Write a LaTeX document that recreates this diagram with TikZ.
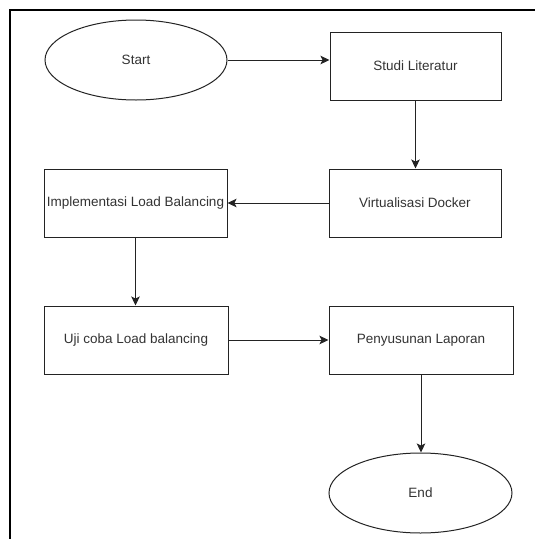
\documentclass[tikz,border=0pt]{standalone}
\usepackage{fontspec}
\setmainfont{Liberation Sans}
\usetikzlibrary{shapes.geometric}
\usetikzlibrary{arrows.meta}
\definecolor{txtgray}{RGB}{51,51,51}
\definecolor{linegray}{RGB}{35,35,35}

\begin{document}
\begin{tikzpicture}[x=1pt,y=-1pt,
  proc/.style={draw=linegray, line width=1pt, rectangle, minimum height=68pt,
    inner sep=0pt, font=\fontsize{13.5}{16}\selectfont, text=txtgray},
  term/.style={draw=linegray, line width=1pt, ellipse, minimum width=182pt,
    minimum height=80pt, inner sep=0pt, font=\fontsize{13.5}{16}\selectfont, text=txtgray},
  flow/.style={draw=linegray, line width=1pt, -{Stealth[length=9pt,width=8.5pt,inset=2pt]}}]

\useasboundingbox (0,0) rectangle (535,539);

%---------------------------------------
% Frame (top and left edges only)
%---------------------------------------
\draw[line width=1.5pt] (10,539) -- (10,10) -- (535,10);

%---------------------------------------
% Steps
%---------------------------------------
\node[term] (start) at (136,60) {Start};
\node[proc, minimum width=171pt] (studi)  at (415.5,66) {Studi Literatur};
\node[proc, minimum width=172pt] (docker) at (415,203)  {Virtualisasi Docker};
\node[proc, minimum width=183pt] (impl)   at (135.5,203) {Implementasi Load Balancing};
\node[proc, minimum width=184pt] (uji)    at (136,340)  {Uji coba Load balancing};
\node[proc, minimum width=184pt] (lapor)  at (421,340)  {Penyusunan Laporan};
\node[term, minimum width=183pt] (end)    at (420.5,493) {End};

%---------------------------------------
% Flow
%---------------------------------------
\draw[flow] (start.east) -- (start.east -| studi.west);
\draw[flow] (studi.south) -- (studi.south |- docker.north);
\draw[flow] (docker.west) -- (impl.east);
\draw[flow] (impl.south) -- (impl.south |- uji.north);
\draw[flow] (uji.east) -- (lapor.west);
\draw[flow] (lapor.south) -- (lapor.south |- end.north);

\end{tikzpicture}
\end{document}
